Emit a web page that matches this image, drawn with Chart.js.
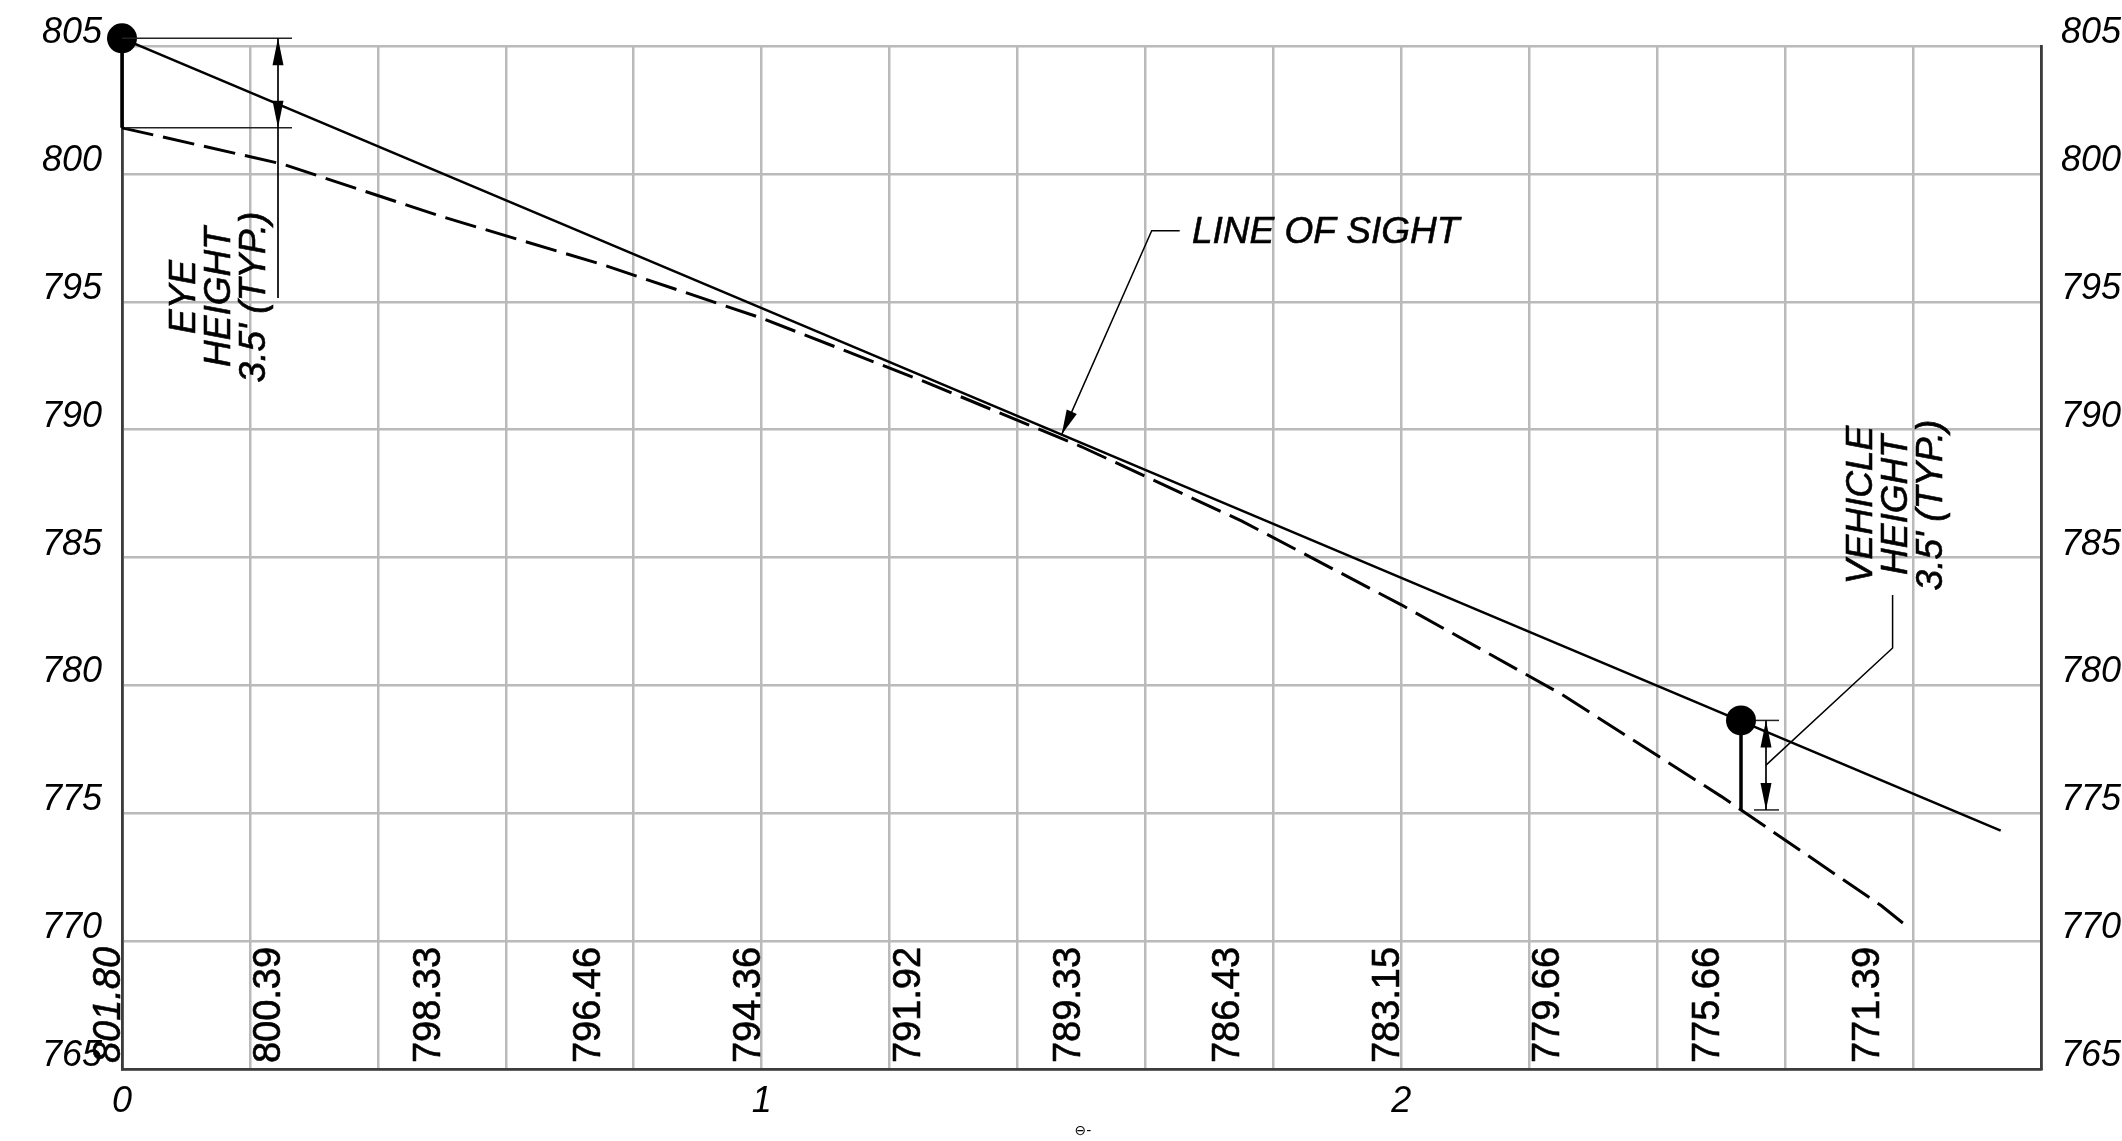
<!DOCTYPE html>
<html>
<head>
<meta charset="utf-8">
<script src="https://cdn.jsdelivr.net/npm/chart.js@4/dist/chart.umd.min.js"></script>
<style>
html,body{margin:0;padding:0;background:#fff;overflow:hidden}
canvas{display:block}
</style>
</head>
<body>
<canvas id="c" width="2122" height="1141"></canvas>
<script>
// ---- data ----
const profileStations   = [0, 0.25, 0.5, 0.75, 1, 1.25, 1.5, 1.75, 2, 2.25, 2.5, 2.75, 2.786];
const profileElevations = [801.80, 800.39, 798.33, 796.46, 794.36, 791.92, 789.33, 786.43, 783.15, 779.66, 775.66, 771.39, 770.67];
const labelStations     = [0, 0.25, 0.5, 0.75, 1, 1.25, 1.5, 1.75, 2, 2.25, 2.5, 2.75];
const elevationLabels   = ['801.80','800.39','798.33','796.46','794.36','791.92','789.33','786.43','783.15','779.66','775.66','771.39'];
const sightStations     = [0, 2.937];
const sightElevations   = [805.30, 774.32];
const observerStations  = [0, 2.531];
const observerElevations= [805.30, 778.63];
const groundElevations  = [801.80, 775.13];
const leaderStation     = 1.469;
const xTickLabels       = ['0', '1', '2'];
const eyeText           = ['EYE', 'HEIGHT', "3.5' (TYP.)"];
const vehicleText       = ['VEHICLE', 'HEIGHT', "3.5' (TYP.)"];
const sightLabel        = 'LINE OF SIGHT';
const footSymbol        = '\u2296-';

const FAM = '"Liberation Sans", Arial, sans-serif';

function pts(xs, ys) { return xs.map((x, i) => ({ x: x, y: ys[i] })); }

function line(ctx, p, w, c) {
  ctx.save(); ctx.beginPath(); ctx.lineWidth = w; ctx.strokeStyle = c; ctx.setLineDash([]);
  ctx.moveTo(p[0][0], p[0][1]);
  for (let i = 1; i < p.length; i++) ctx.lineTo(p[i][0], p[i][1]);
  ctx.stroke(); ctx.restore();
}
function arrow(ctx, tx, ty, fx, fy, len, hw) {
  const a = Math.atan2(ty - fy, tx - fx);
  const bx = tx - Math.cos(a) * len, by = ty - Math.sin(a) * len;
  const nx = -Math.sin(a) * hw, ny = Math.cos(a) * hw;
  ctx.save(); ctx.fillStyle = '#000'; ctx.beginPath();
  ctx.moveTo(tx, ty); ctx.lineTo(bx + nx, by + ny); ctx.lineTo(bx - nx, by - ny);
  ctx.closePath(); ctx.fill(); ctx.restore();
}
function vtext(ctx, str, x, y, font, align) {
  ctx.save(); ctx.translate(x, y); ctx.rotate(-Math.PI / 2);
  ctx.font = font; ctx.fillStyle = '#000'; ctx.strokeStyle = '#000'; ctx.lineWidth = 0.6;
  ctx.textAlign = align || 'center'; ctx.textBaseline = 'alphabetic';
  ctx.fillText(str, 0, 0); ctx.strokeText(str, 0, 0); ctx.restore();
}

const annotations = {
  id: 'annotations',
  afterDatasetsDraw(chart) {
    const ctx = chart.ctx;
    const xs = chart.scales.x, ys = chart.scales.y;
    const X = v => xs.getPixelForValue(v), Y = v => ys.getPixelForValue(v);

    // elevation labels along the bottom
    labelStations.forEach((s, i) => {
      const f = (i === 0 ? 'italic ' : '') + '38px ' + FAM;
      vtext(ctx, elevationLabels[i], X(s) - 2, 1005, f, 'center');
    });

    // eye height dimension
    const ex = X(observerStations[0]);
    const eTop = Y(observerElevations[0]), eBot = Y(groundElevations[0]);
    line(ctx, [[ex, eTop], [ex + 170, eTop]], 1.5, '#222');
    line(ctx, [[ex + 4, eBot], [ex + 170, eBot]], 1.5, '#222');
    line(ctx, [[ex + 156, eTop], [ex + 156, 298]], 1.7, '#000');
    arrow(ctx, ex + 156, eTop, ex + 156, eTop + 30, 27, 5.5);
    arrow(ctx, ex + 156, eBot, ex + 156, eBot - 30, 27, 5.5);
    const itf = 'italic 37px ' + FAM;
    eyeText.forEach((t, i) => vtext(ctx, t, ex + 73 + i * 35, 297, itf, 'center'));

    // vehicle height dimension
    const vx = X(observerStations[1]);
    const vTop = Y(observerElevations[1]), vBot = Y(groundElevations[1]);
    line(ctx, [[vx + 15, vTop], [vx + 38, vTop]], 1.5, '#222');
    line(ctx, [[vx + 13, vBot], [vx + 38, vBot]], 1.5, '#222');
    line(ctx, [[vx + 25, vTop], [vx + 25, vBot]], 1.7, '#000');
    arrow(ctx, vx + 25, vTop, vx + 25, vTop + 30, 27, 5.5);
    arrow(ctx, vx + 25, vBot, vx + 25, vBot - 30, 27, 5.5);
    const vm = (vTop + vBot) / 2;
    line(ctx, [[vx + 25, vm], [vx + 151.6, 648], [vx + 151.6, 595]], 1.5, '#000');
    vehicleText.forEach((t, i) => vtext(ctx, t, vx + 131 + i * 35, 505, itf, 'center'));

    // line of sight leader
    const tf = (leaderStation - sightStations[0]) / (sightStations[1] - sightStations[0]);
    const tipX = X(leaderStation);
    const tipY = Y(sightElevations[0] + tf * (sightElevations[1] - sightElevations[0]));
    const kx = 1151.7, ky = 230.7;
    line(ctx, [[kx + 28, ky], [kx, ky], [tipX, tipY]], 1.5, '#000');
    arrow(ctx, tipX, tipY, kx, ky, 25, 5.5);
    ctx.save(); ctx.font = itf; ctx.fillStyle = '#000'; ctx.strokeStyle = '#000'; ctx.lineWidth = 0.6;
    ctx.textAlign = 'left'; ctx.textBaseline = 'alphabetic';
    ctx.fillText(sightLabel, 1192, 243); ctx.strokeText(sightLabel, 1192, 243); ctx.restore();

    // tiny symbol under axis
    ctx.save(); ctx.font = '14px "DejaVu Sans"'; ctx.fillStyle = '#000'; ctx.textAlign = 'center'; ctx.textBaseline = 'middle';
    ctx.fillText(footSymbol, 1083, 1131); ctx.restore();
  }
};

const tickFont = { family: FAM, size: 36, style: 'italic' };
const gridCfg = { color: '#bababa', lineWidth: 2.5, drawTicks: false };
const borderCfg = { color: '#3c3c3c', width: 2.8 };

new Chart(document.getElementById('c'), {
  type: 'scatter',
  data: {
    datasets: [
      { data: pts(profileStations, profileElevations), showLine: true, borderColor: '#000', borderWidth: 3,
        borderDash: [32, 10], pointRadius: 0, tension: 0, clip: false },
      { data: pts(sightStations, sightElevations), showLine: true, borderColor: '#000', borderWidth: 2.6,
        pointRadius: 0, clip: false },
      { data: pts([observerStations[0], observerStations[0]], [observerElevations[0], groundElevations[0]]),
        showLine: true, borderColor: '#000', borderWidth: 3.5, pointRadius: 0, clip: false },
      { data: pts([observerStations[1], observerStations[1]], [observerElevations[1], groundElevations[1]]),
        showLine: true, borderColor: '#000', borderWidth: 3.5, pointRadius: 0, clip: false },
      { data: pts(observerStations, observerElevations), showLine: false, pointRadius: 15,
        pointBackgroundColor: '#000', pointBorderColor: '#000', pointBorderWidth: 0, clip: false }
    ]
  },
  options: {
    responsive: false,
    animation: false,
    devicePixelRatio: 1,
    layout: { padding: { top: 46, left: 0, right: 0, bottom: 0 } },
    plugins: { legend: { display: false }, tooltip: { enabled: false } },
    scales: {
      x: {
        type: 'linear', min: 0, max: 3,
        grid: gridCfg, border: borderCfg,
        ticks: { stepSize: 0.2, autoSkip: false, maxRotation: 0, font: tickFont, color: '#000', padding: 11,
          callback: v => { const i = Math.round(v); return (Math.abs(v - i) < 1e-6 && i < xTickLabels.length) ? xTickLabels[i] : ''; } },
        afterFit: s => { s.height = 72; }
      },
      y: {
        type: 'linear', position: 'left', min: 765, max: 805,
        grid: gridCfg, border: borderCfg,
        ticks: { stepSize: 5, font: tickFont, color: '#000', padding: 20, labelOffset: -13 },
        afterFit: s => { s.width = 122; }
      },
      y2: {
        type: 'linear', position: 'right', min: 765, max: 805,
        grid: { display: true, drawOnChartArea: false, drawTicks: false }, border: borderCfg,
        ticks: { stepSize: 5, font: tickFont, color: '#000', padding: 20, labelOffset: -13 },
        afterFit: s => { s.width = 81; }
      }
    }
  },
  plugins: [annotations]
});
</script>
</body>
</html>
